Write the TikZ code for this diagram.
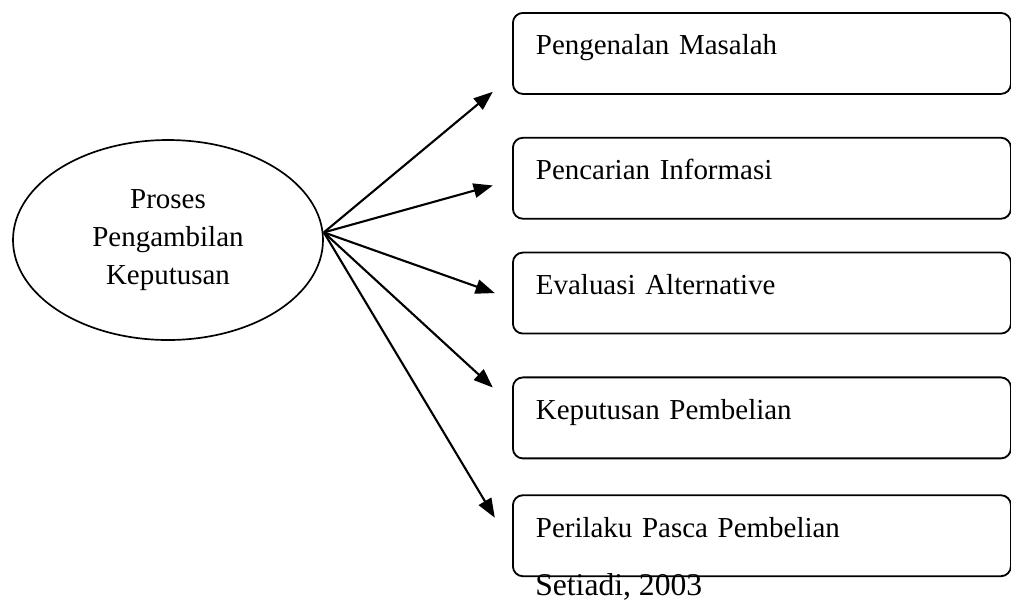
\documentclass[tikz,border=0pt]{standalone}
\usepackage{fontspec}
\setmainfont{Liberation Serif}
\usepackage{tikz}
\usetikzlibrary{shapes.geometric, arrows.meta, positioning, calc}
\tikzstyle{proses} = [ellipse, draw, line width=1.2pt, minimum width=7.75cm, minimum height=5cm, inner sep=0pt, align=center, font=\fontsize{20.6}{27.3}\selectfont]
\tikzstyle{tahap} = [rectangle, draw, line width=1.3pt, rounded corners=0.25cm, minimum width=12.45cm, text width=11.3cm, align=left, inner xsep=0.575cm, inner ysep=0pt, text height=1.05cm, text depth=0.975cm, font=\fontsize{20.6}{24}\selectfont]
\tikzstyle{arrow} = [line width=1.5pt,-{Triangle[length=0.48cm,width=0.36cm]}]

\begin{document}
\begin{tikzpicture}
\useasboundingbox (0,0) rectangle (25.275,-15.025);

% Central ellipse
\node[proses] (pk) at (4.2,-6.0) {Proses\\Pengambilan\\Keputusan};
\coordinate (hub) at ($(pk.east)+(0,0.19)$);

% Stages
\node[tahap, anchor=north west] (b1) at (12.8,-0.3) {Pengenalan Masalah};
\node[tahap, below=1.05cm of b1] (b2) {Pencarian Informasi};
\node[tahap, below=0.8cm of b2] (b3) {Evaluasi Alternative};
\node[tahap, below=1.05cm of b3] (b4) {Keputusan Pembelian};
\node[tahap, below=0.875cm of b4] (b5) {Perilaku Pasca Pembelian};

% Source
\node[anchor=base west, inner sep=0pt, font=\fontsize{22.5}{26}\selectfont] (src) at ([xshift=0.575cm, yshift=-0.47cm]b5.south west) {Setiadi, 2003};

% Arrows
\draw[arrow] (hub) -- ([xshift=-0.48cm, yshift=-0.96cm]b1.west);
\draw[arrow] (hub) -- ([xshift=-0.48cm, yshift=-0.18cm]b2.west);
\draw[arrow] (hub) -- ([xshift=-0.43cm]b3.west);
\draw[arrow] (hub) -- ([xshift=-0.48cm, yshift=0.76cm]b4.west);
\draw[arrow] (hub) -- ([xshift=-0.43cm, yshift=0.45cm]b5.west);

\end{tikzpicture}
\end{document}
